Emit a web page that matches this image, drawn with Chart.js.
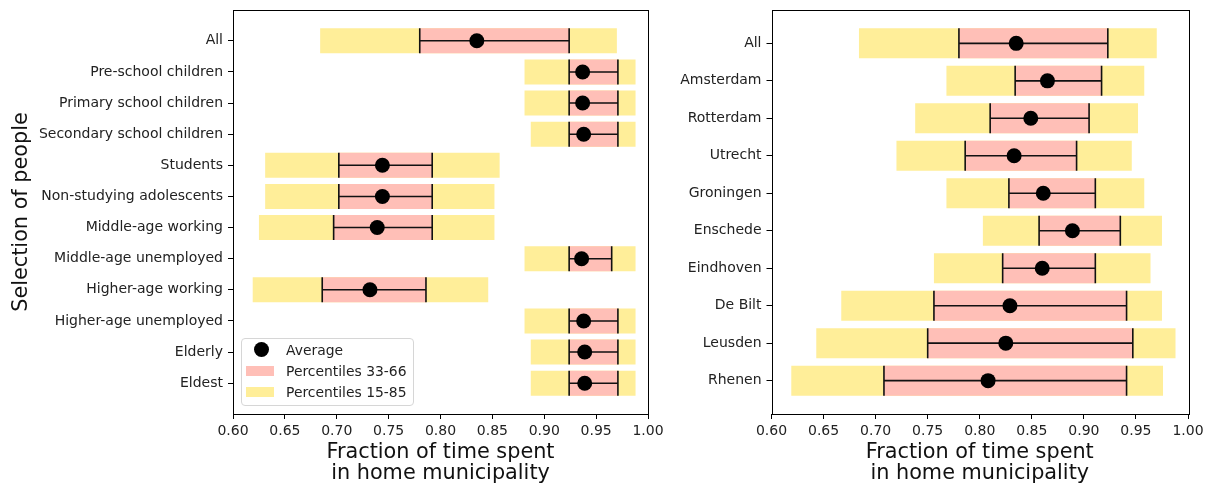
<!DOCTYPE html>
<html>
<head>
<meta charset="utf-8">
<script src="https://cdn.jsdelivr.net/npm/chart.js@4/dist/chart.umd.min.js"></script>
<style>
    html, body { margin: 0; padding: 0; background: #fff; }
    #wrap { position: relative; width: 1208px; height: 486px; }
    canvas { position: absolute; top: 0; }
    #leftChart { left: 0; }
    #rightChart { left: 664px; }
    .legend {
        position: absolute; left: 241px; top: 338px; width: 171px; height: 66px;
        border: 1px solid #d6d6d6; border-radius: 4px; background: rgba(255,255,255,0.8);
        font-family: "DejaVu Sans"; font-size: 13.9px; color: #222;
    }
    .legend .row { position: absolute; left: 0; height: 20px; line-height: 20px; }
    .legend .txt { position: absolute; left: 44px; white-space: nowrap; }
    .legend .dot { position: absolute; left: 12px; top: 2px; width: 15px; height: 15px; border-radius: 50%; background: #000; }
    .legend .box { position: absolute; left: 4px; top: 5px; width: 28px; height: 10px; }
</style>
</head>
<body>
<div id="wrap">
    <canvas id="leftChart" width="664" height="486"></canvas>
    <canvas id="rightChart" width="544" height="486"></canvas>
    <div class="legend">
        <div class="row" style="top:1px"><span class="dot"></span><span class="txt">Average</span></div>
        <div class="row" style="top:22px"><span class="box" style="background:#ffbfb7"></span><span class="txt">Percentiles 33-66</span></div>
        <div class="row" style="top:43px"><span class="box" style="background:#ffee99"></span><span class="txt">Percentiles 15-85</span></div>
    </div>
</div>
<script>
const xTicks = [0.60, 0.65, 0.70, 0.75, 0.80, 0.85, 0.90, 0.95, 1.00];

// people groups
const leftCats = ['All', 'Pre-school children', 'Primary school children', 'Secondary school children',
    'Students', 'Non-studying adolescents', 'Middle-age working', 'Middle-age unemployed',
    'Higher-age working', 'Higher-age unemployed', 'Elderly', 'Eldest'];
const leftP15 = [0.684, 0.881, 0.881, 0.887, 0.631, 0.631, 0.625, 0.881, 0.619, 0.881, 0.887, 0.887];
const leftP85 = [0.970, 0.988, 0.988, 0.988, 0.857, 0.852, 0.852, 0.988, 0.846, 0.988, 0.988, 0.988];
const leftP33 = [0.780, 0.924, 0.924, 0.924, 0.702, 0.702, 0.697, 0.924, 0.686, 0.924, 0.924, 0.924];
const leftP66 = [0.924, 0.971, 0.971, 0.971, 0.792, 0.792, 0.792, 0.965, 0.786, 0.971, 0.971, 0.971];
const leftAvg = [0.835, 0.937, 0.937, 0.938, 0.744, 0.744, 0.739, 0.936, 0.732, 0.938, 0.939, 0.939];

// municipalities
const rightCats = ['All', 'Amsterdam', 'Rotterdam', 'Utrecht', 'Groningen', 'Enschede',
    'Eindhoven', 'De Bilt', 'Leusden', 'Rhenen'];
const rightP15 = [0.684, 0.768, 0.738, 0.720, 0.768, 0.803, 0.756, 0.667, 0.643, 0.619];
const rightP85 = [0.970, 0.958, 0.952, 0.946, 0.958, 0.975, 0.964, 0.975, 0.988, 0.976];
const rightP33 = [0.780, 0.834, 0.810, 0.786, 0.828, 0.857, 0.822, 0.756, 0.750, 0.708];
const rightP66 = [0.923, 0.917, 0.905, 0.893, 0.911, 0.935, 0.911, 0.941, 0.947, 0.941];
const rightAvg = [0.835, 0.865, 0.849, 0.833, 0.861, 0.889, 0.860, 0.829, 0.825, 0.808];

const FONT = 'DejaVu Sans';

// frame around plot area (all four spines)
const framePlugin = {
    id: 'frame',
    afterDraw(chart) {
        const { ctx, chartArea: a } = chart;
        ctx.save();
        ctx.strokeStyle = '#000';
        ctx.lineWidth = 1;
        ctx.strokeRect(Math.round(a.left) + 0.5, Math.round(a.top) + 0.5,
            Math.round(a.right - a.left), Math.round(a.bottom - a.top));
        ctx.restore();
    }
};

// error bars between the 33 and 66 percentiles, drawn right after the pink bars
const errorPlugin = {
    id: 'errbars',
    afterDatasetDraw(chart, args) {
        if (args.index !== 2) return;
        const lo = chart.data.datasets[2].data;
        const { ctx } = chart;
        const x = chart.scales.x, y = chart.scales.y;
        ctx.save();
        ctx.strokeStyle = '#111';
        ctx.lineWidth = 1.6;
        lo.forEach((d) => {
            const yc = y.getPixelForValue(d.y);
            const y0 = y.getPixelForValue(d.y - 0.4);
            const y1 = y.getPixelForValue(d.y + 0.4);
            const xa = x.getPixelForValue(d.x[0]);
            const xb = x.getPixelForValue(d.x[1]);
            ctx.beginPath();
            ctx.moveTo(xa, yc); ctx.lineTo(xb, yc);
            ctx.moveTo(xa, y0); ctx.lineTo(xa, y1);
            ctx.moveTo(xb, y0); ctx.lineTo(xb, y1);
            ctx.stroke();
        });
        ctx.restore();
    }
};

function makeChart(id, cats, p15, p85, p33, p66, avg, axisWidth, padRight, yTitle) {
    const ctx = document.getElementById(id).getContext('2d');
    // matplotlib-like margins: bars span i-0.4..i+0.4, plus 5% of that range
    const margin = 0.05 * (cats.length - 0.2);
    return new Chart(ctx, {
        type: 'bar',
        data: {
            datasets: [
                {
                    type: 'line',
                    label: 'Average',
                    data: avg.map((v, i) => ({ x: v, y: i })),
                    showLine: false,
                    pointRadius: 7.5,
                    pointBackgroundColor: '#000',
                    pointBorderWidth: 0,
                    order: 0,
                },
                {
                    label: 'Percentiles 15-85',
                    data: p15.map((v, i) => ({ x: [v, p85[i]], y: i })),
                    backgroundColor: '#ffee99',
                    order: 3,
                },
                {
                    label: 'Percentiles 33-66',
                    data: p33.map((v, i) => ({ x: [v, p66[i]], y: i })),
                    backgroundColor: '#ffbfb7',
                    order: 2,
                },
            ],
        },
        options: {
            indexAxis: 'y',
            responsive: false,
            animation: false,
            devicePixelRatio: 1,
            grouped: false,
            categoryPercentage: 1,
            barPercentage: 0.8,
            layout: { padding: { top: 10, right: padRight, bottom: 0, left: 0 } },
            plugins: {
                legend: { display: false },
                tooltip: { enabled: false },
            },
            scales: {
                x: {
                    type: 'linear',
                    min: 0.6,
                    max: 1.0,
                    offset: false,
                    afterBuildTicks: (s) => { s.ticks = xTicks.map((v) => ({ value: v })); },
                    afterFit: (s) => { s.height = 72; s.paddingLeft = 0; s.paddingRight = 0; },
                    border: { display: false },
                    grid: { offset: false, drawOnChartArea: false, drawTicks: true, tickLength: 5, color: '#000' },
                    ticks: {
                        padding: 4,
                        color: '#222',
                        font: { family: FONT, size: 14 },
                        maxRotation: 0,
                        callback: (v) => v.toFixed(2),
                    },
                    title: {
                        display: true,
                        text: ['Fraction of time spent', 'in home municipality'],
                        color: '#111',
                        font: { family: FONT, size: 20.8, lineHeight: 1.02 },
                        padding: { top: 0, bottom: 2 },
                    },
                },
                y: {
                    type: 'linear',
                    reverse: true,
                    offset: false,
                    min: -0.4 - margin,
                    max: cats.length - 0.6 + margin,
                    afterBuildTicks: (s) => { s.ticks = cats.map((_, i) => ({ value: i })); },
                    afterFit: (s) => { s.width = axisWidth; s.paddingTop = 0; s.paddingBottom = 0; },
                    border: { display: false },
                    grid: { offset: false, drawOnChartArea: false, drawTicks: true, tickLength: 5, color: '#000' },
                    ticks: {
                        autoSkip: false,
                        padding: 5,
                        color: '#222',
                        font: { family: FONT, size: 14 },
                        callback: (v) => cats[v],
                    },
                    title: {
                        display: !!yTitle,
                        text: yTitle,
                        color: '#111',
                        font: { family: FONT, size: 20.8 },
                        padding: { top: 9, bottom: 0 },
                    },
                },
            },
        },
        plugins: [errorPlugin, framePlugin],
    });
}

makeChart('leftChart', leftCats, leftP15, leftP85, leftP33, leftP66, leftAvg, 233, 16, 'Selection of people');
makeChart('rightChart', rightCats, rightP15, rightP85, rightP33, rightP66, rightAvg, 107.5, 20, '');
</script>
</body>
</html>
